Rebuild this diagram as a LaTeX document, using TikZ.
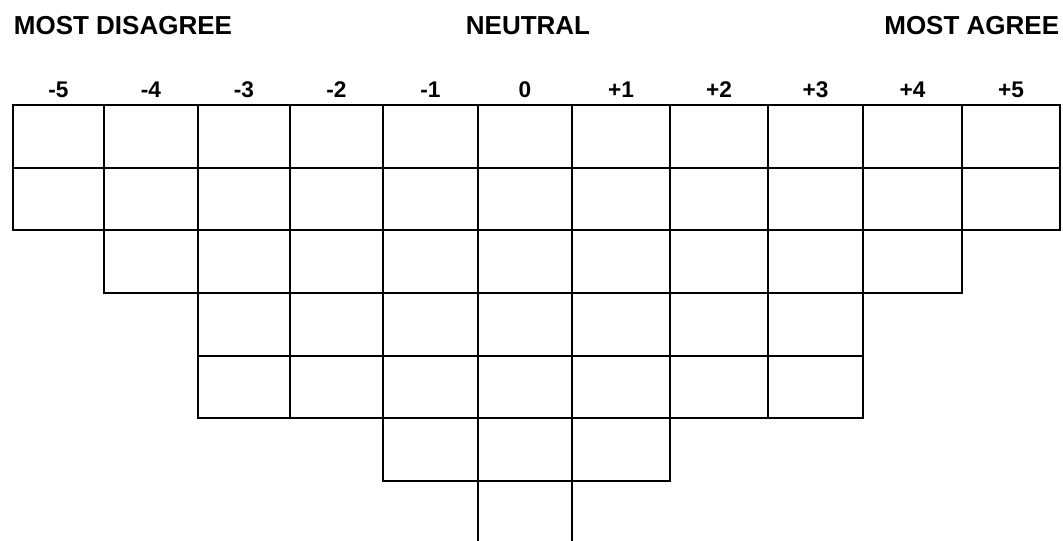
\documentclass[tikz,border=0pt]{standalone}
\usepackage{fontspec}
\setmainfont{Liberation Sans}
\begin{document}
\begin{tikzpicture}[x=0.75pt, y=-0.75pt, line width=1.3pt,
	heading/.style={font=\bfseries\fontsize{19.5}{22}\selectfont, inner sep=0pt},
	colnum/.style={font=\bfseries\fontsize{17}{20}\selectfont, inner sep=0pt}]
	\useasboundingbox (0,0) rectangle (1063,541);
	\clip (0,0) rectangle (1063,541);
	% Encabezados de la escala
	\node[heading, anchor=west] (disagree) at (13,26) {MOST DISAGREE};
	\node[heading] (neutral) at (528,26) {NEUTRAL};
	\node[heading, anchor=east] (agree) at (1060,26) {MOST AGREE};
	% Columnas: borde izquierdo / borde derecho / casillas / valor
	\foreach \xl/\xr/\rows/\lab [count=\i] in {13/104/2/-5, 104/198/3/-4,
		198/290/5/-3, 290/383/5/-2, 383/478/6/-1, 478/572/7/0, 572/670/6/+1,
		670/768/5/+2, 768/863/5/+3, 863/962/3/+4, 962/1060/2/+5}{
		\node[colnum] (col\i) at ({(\xl+\xr)/2},90) {\lab};
		\foreach \r in {1,...,\rows}
			\draw ({\xl},{105+62.67*(\r-1)}) rectangle ({\xr},{105+62.67*\r});
	}
\end{tikzpicture}
\end{document}
